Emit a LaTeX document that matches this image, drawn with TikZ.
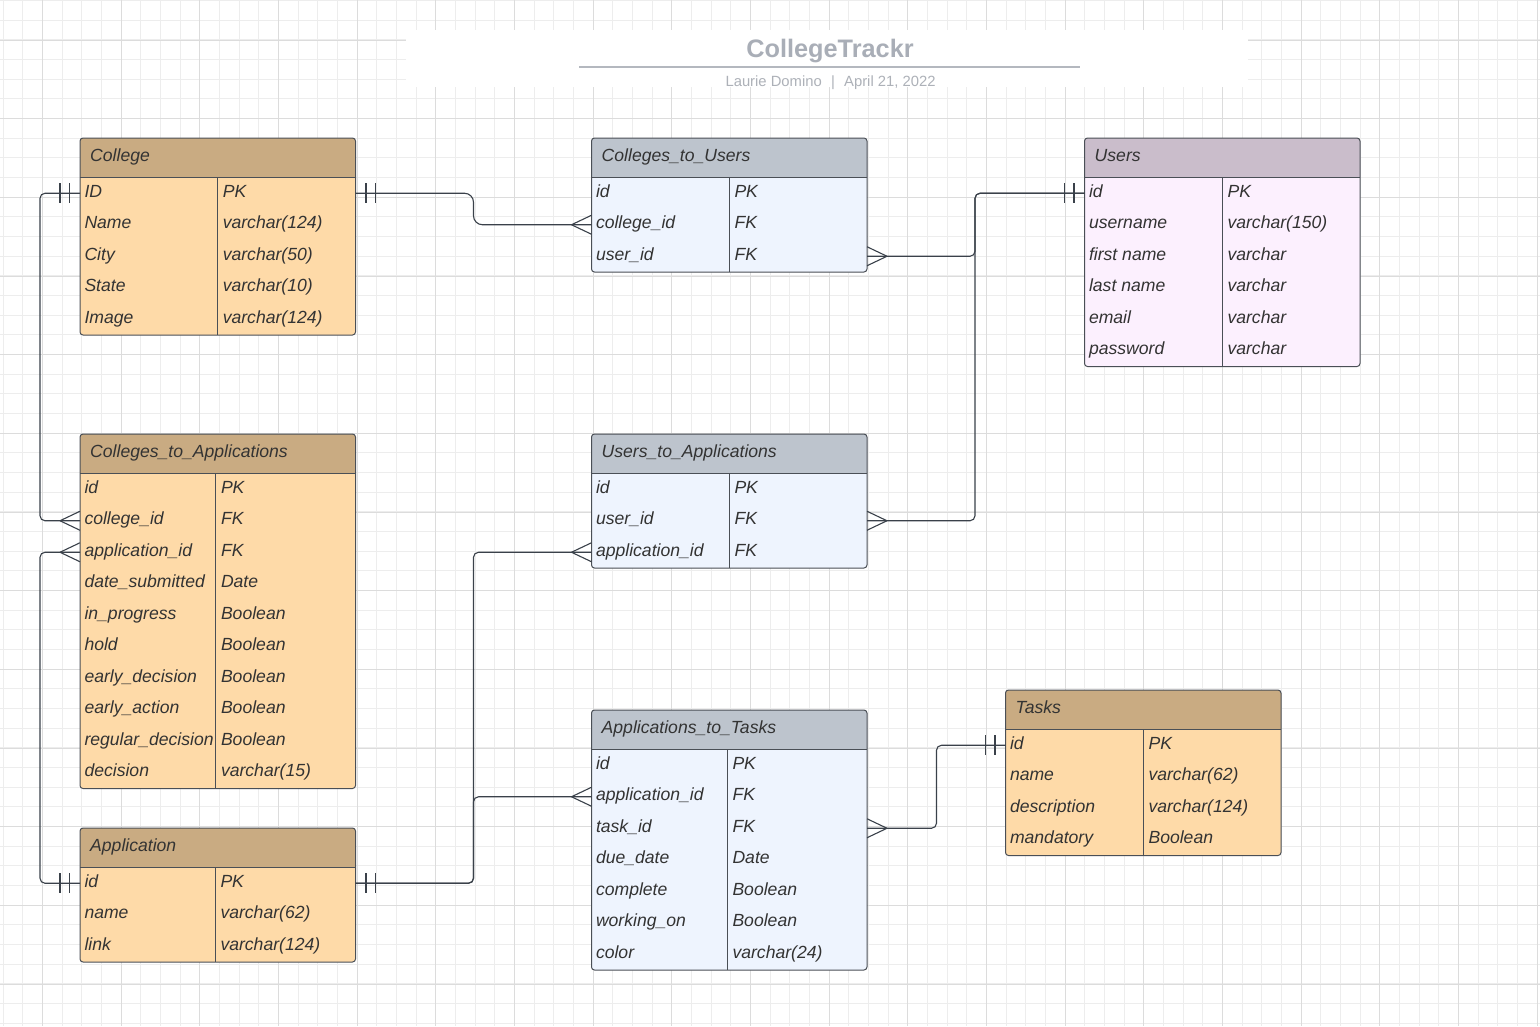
\documentclass[tikz,border=0pt]{standalone}
\usepackage{fontspec}
\setmainfont{Liberation Sans}
\usetikzlibrary{calc}
\definecolor{tanhead}{HTML}{C9AB82}
\definecolor{tanbody}{HTML}{FEDAA8}
\definecolor{bluehead}{HTML}{BDC4CD}
\definecolor{bluebody}{HTML}{EEF4FE}
\definecolor{mauvehead}{HTML}{CABDCB}
\definecolor{mauvebody}{HTML}{FCF0FE}
\definecolor{edgecol}{HTML}{4A4F56}
\definecolor{ink}{HTML}{333333}
\definecolor{wire}{HTML}{3A414A}
\definecolor{gridminor}{HTML}{EDEDED}
\definecolor{gridmajor}{HTML}{DCDCDC}
\definecolor{titlegray}{HTML}{A9AEB7}
\definecolor{subgray}{HTML}{ADB1B8}
\definecolor{rulegray}{HTML}{B4B8BF}

\tikzset{
  tableedge/.style={draw=edgecol, line width=1pt},
  rowbox/.style={rectangle, draw=none, inner sep=0pt, outer sep=0pt, minimum width=275.5pt, minimum height=31.5pt, anchor=north west},
  celltext/.style={anchor=base west, inner sep=0pt, text=ink, font=\fontsize{17.6}{20}\selectfont\itshape},
  headtext/.style={anchor=base west, inner sep=0pt, text=ink, font=\fontsize{17.6}{20}\selectfont\itshape},
  conn/.style={draw=wire, line width=1.1pt, rounded corners=5pt},
  endtick/.style={draw=wire, line width=1.1pt},
  gminor/.style={draw=gridminor, line width=1pt},
  gmajor/.style={draw=gridmajor, line width=1pt},
}

\newcommand\erdtable[9]{%
 \pgfmathsetmacro\tx{#2}%
 \pgfmathsetmacro\ty{#3}%
 \pgfmathsetmacro\hb{#3+39.5}%
 \pgfmathsetmacro\tb{#3+39.5+31.5*#8}%
 \pgfmathsetmacro\tr{#2+275.5}%
 \pgfmathsetmacro\dv{#2+#4}%
 \fill[#6, rounded corners=3pt] (\tx,\ty) rectangle (\tr,\tb);
 \begin{scope}
  \clip (\tx,\ty) rectangle (\tr,\hb);
  \fill[#5, rounded corners=3pt] (\tx,\ty) rectangle (\tr,\tb);
 \end{scope}
 \draw[tableedge] (\tx,\hb) -- (\tr,\hb);
 \draw[tableedge] (\dv,\hb) -- (\dv,\tb);
 \draw[tableedge, rounded corners=3pt] (\tx,\ty) rectangle (\tr,\tb);
 \node[headtext] (#1-head) at (\tx+10,\ty+23.7) {#7};
 \foreach \fa/\fb [count=\i] in {#9} {
   \node[rowbox] (#1-r\i) at (\tx,\hb+31.5*\i-31.5) {};
   \node[celltext] (#1-n\i) at (\tx+4.3,\hb+31.5*\i-11.8) {\fa};
   \node[celltext] (#1-t\i) at (\dv+5.3,\hb+31.5*\i-11.8) {\fb};
 }
}

% one-and-only-one marks: #1 anchor, #2 direction (+1 right, -1 left)
\newcommand\onemark[2]{%
 \draw[endtick] ([xshift=#2*10.5pt, yshift=10pt]#1) -- ([xshift=#2*10.5pt, yshift=-10pt]#1);
 \draw[endtick] ([xshift=#2*20pt, yshift=10pt]#1) -- ([xshift=#2*20pt, yshift=-10pt]#1);
}
% crow's foot: #1 anchor, #2 direction
\newcommand\crowfoot[2]{%
 \draw[endtick] ([xshift=#2*20pt]#1) -- ([yshift=9.5pt]#1);
 \draw[endtick] ([xshift=#2*20pt]#1) -- ([yshift=-9.5pt]#1);
}

\begin{document}
\begin{tikzpicture}[x=1pt, y=-1pt]
\fill[white] (0,0) rectangle (1540,1026);
\useasboundingbox (0,0) rectangle (1540,1026);

% grid
\foreach \k in {0,...,78} \draw[gminor] ({3.2+19.667*\k},0) -- ({3.2+19.667*\k},1026);
\foreach \k in {0,...,52} \draw[gminor] (0,{0.6+19.667*\k}) -- (1540,{0.6+19.667*\k});
\foreach \k in {0,...,19} \draw[gmajor] ({42.6+78.667*\k},0) -- ({42.6+78.667*\k},1026);
\foreach \k in {0,...,12} \draw[gmajor] (0,{40+78.667*\k}) -- (1540,{40+78.667*\k});

% title block
\fill[white] (406,29.5) rectangle (1247.5,86.7);
\node[anchor=base, inner sep=0pt, text=titlegray, font=\fontsize{25.3}{28}\selectfont\bfseries] (title) at (830,57.3) {CollegeTrackr};
\draw[rulegray, line width=2pt] (579,66.7) -- (1080,66.7);
\node[anchor=base east, inner sep=0pt, text=subgray, font=\fontsize{14.8}{17}\selectfont] (author) at (822,86.7) {Laurie Domino};
\node[anchor=base, inner sep=0pt, text=subgray, font=\fontsize{14.8}{17}\selectfont] (sep) at (833,86.7) {|};
\node[anchor=base west, inner sep=0pt, text=subgray, font=\fontsize{14.8}{17}\selectfont] (date) at (844,86.7) {April 21, 2022};

% tables
\erdtable{college}{80}{138}{137.3}{tanhead}{tanbody}{College}{5}{ID/PK, Name/varchar(124), City/varchar(50), State/varchar(10), Image/varchar(124)}
\erdtable{ctu}{591.5}{138}{137.5}{bluehead}{bluebody}{Colleges\_to\_Users}{3}{id/PK, college\_id/FK, user\_id/FK}
\erdtable{users}{1084.5}{138}{137.5}{mauvehead}{mauvebody}{Users}{6}{id/PK, username/varchar(150), first name/varchar, last name/varchar, email/varchar, password/varchar}
\erdtable{cta}{80}{434}{135.5}{tanhead}{tanbody}{Colleges\_to\_Applications}{10}{id/PK, college\_id/FK, application\_id/FK, date\_submitted/Date, in\_progress/Boolean, hold/Boolean, early\_decision/Boolean, early\_action/Boolean, regular\_decision/Boolean, decision/varchar(15)}
\erdtable{uta}{591.5}{434}{137.5}{bluehead}{bluebody}{Users\_to\_Applications}{3}{id/PK, user\_id/FK, application\_id/FK}
\erdtable{att}{591.5}{710}{135.5}{bluehead}{bluebody}{Applications\_to\_Tasks}{7}{id/PK, application\_id/FK, task\_id/FK, due\_date/Date, complete/Boolean, working\_on/Boolean, color/varchar(24)}
\erdtable{tasks}{1005.5}{690}{137.5}{tanhead}{tanbody}{Tasks}{4}{id/PK, name/varchar(62), description/varchar(124), mandatory/Boolean}
\erdtable{app}{80}{828}{135}{tanhead}{tanbody}{Application}{3}{id/PK, name/varchar(62), link/varchar(124)}

% connectors
\draw[conn] (college-r1.west) -- ++(-40,0) |- (cta-r2.west);
\draw[conn, rounded corners=9pt] (college-r1.east) -- ++(118,0) |- (ctu-r2.west);
\draw[conn] (ctu-r3.east) -- ++(108,0) |- (users-r1.west);
\draw[conn] (uta-r2.east) -- ++(108,0) |- (users-r1.west);
\draw[conn] (cta-r3.west) -- ++(-40,0) |- (app-r1.west);
\draw[conn] (app-r1.east) -- ++(118,0) |- (uta-r3.west);
\draw[conn] (app-r1.east) -- ++(118,0) |- (att-r2.west);
\draw[conn] (att-r3.east) -- ++(69.5,0) |- (tasks-r1.west);

% end marks
\onemark{college-r1.west}{-1}
\onemark{college-r1.east}{1}
\onemark{users-r1.west}{-1}
\onemark{app-r1.west}{-1}
\onemark{app-r1.east}{1}
\onemark{tasks-r1.west}{-1}
\crowfoot{cta-r2.west}{-1}
\crowfoot{cta-r3.west}{-1}
\crowfoot{ctu-r2.west}{-1}
\crowfoot{ctu-r3.east}{1}
\crowfoot{uta-r2.east}{1}
\crowfoot{uta-r3.west}{-1}
\crowfoot{att-r2.west}{-1}
\crowfoot{att-r3.east}{1}
\end{tikzpicture}
\end{document}
